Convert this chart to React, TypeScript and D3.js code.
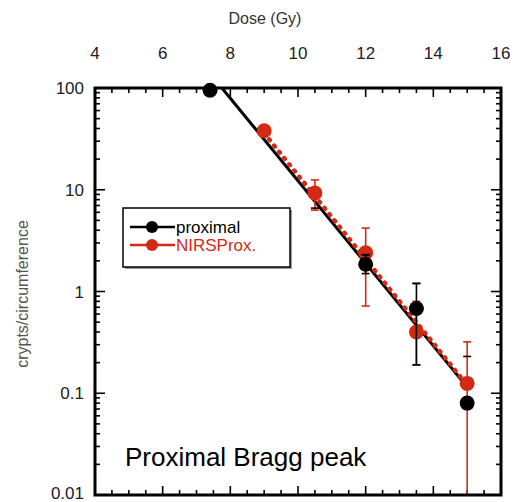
import React from "react";
import * as d3 from "d3";

const xTickLabels = [4, 6, 8, 10, 12, 14, 16];
const yTickLabels = ["0.01", "0.1", "1", "10", "100"];
const yTickValues = [0.01, 0.1, 1, 10, 100];

// proximal (black)
const proxDose = [7.4, 9, 10.5, 12, 13.5, 15];
const proxVal = [95, 38, 9.3, 1.85, 0.68, 0.08];
const proxLo = [95, 38, 6.6, 1.5, 0.19, 0.01];
const proxHi = [95, 38, 11.5, 2.3, 1.2, 0.23];
const proxFitDose = [7.75, 15];
const proxFitVal = [100, 0.115];

// NIRS proximal (red)
const nirsDose = [9, 10.5, 12, 13.5, 15];
const nirsVal = [38, 9.3, 2.4, 0.4, 0.125];
const nirsLo = [38, 6.3, 0.72, 0.19, 0.005];
const nirsHi = [38, 12.5, 4.2, 0.8, 0.32];
const nirsFitDose = [9, 15];
const nirsFitVal = [36, 0.12];

const legendLabels = ["proximal", "NIRSProx."];
const RED = "#d42a12";

export default function App() {
  const L = 95, R = 501, T = 88, B = 495;
  const x = d3.scaleLinear().domain([4, 16]).range([L, R]);
  const y = d3.scaleLog().domain([0.01, 100]).range([B, T]).clamp(true);
  const font = "Liberation Sans, Arial, sans-serif";

  const minorX = d3.range(4, 16.01, 0.5);
  const minorY: number[] = [];
  for (let e = -2; e < 2; e++) for (let m = 2; m <= 9; m++) minorY.push(m * Math.pow(10, e));

  const line = d3.line<[number, number]>().x(d => x(d[0])).y(d => y(d[1]));
  const proxFit = line(proxFitDose.map((d, i) => [d, proxFitVal[i]]));
  const nirsFit = line(nirsFitDose.map((d, i) => [d, nirsFitVal[i]]));

  const errBars = (dose: number[], lo: number[], hi: number[], color: string) =>
    dose.map((d, i) => (
      <g key={i} stroke={color} strokeWidth={1.6}>
        <line x1={x(d)} x2={x(d)} y1={y(lo[i])} y2={y(hi[i])} />
        {lo[i] > 0.01 && <line x1={x(d) - 4} x2={x(d) + 4} y1={y(lo[i])} y2={y(lo[i])} />}
        <line x1={x(d) - 4} x2={x(d) + 4} y1={y(hi[i])} y2={y(hi[i])} />
      </g>
    ));

  return (
    <svg width={516} height={502} style={{ position: "absolute", left: 0, top: 0, background: "#fff" }} fontFamily={font}>
      <defs>
        <clipPath id="plot"><rect x={L} y={T - 10} width={R - L} height={B - T + 10} /></clipPath>
      </defs>
      {/* axis titles */}
      <text x={265} y={24} fontSize={16} textAnchor="middle" fill="#333">Dose (Gy)</text>
      <text transform={`translate(28,${294}) rotate(-90)`} fontSize={16} textAnchor="middle" fill="#555">crypts/circumference</text>
      {xTickLabels.map(v => (
        <text key={v} x={x(v)} y={59} fontSize={17} textAnchor="middle" fill="#222">{v}</text>
      ))}
      {yTickValues.map((v, i) => (
        <text key={v} x={84} y={Math.min(y(v) + 6, 499)} fontSize={17} textAnchor="end" fill="#222">{yTickLabels[i]}</text>
      ))}
      {/* ticks */}
      <g stroke="#000" strokeWidth={1.6}>
        {minorX.map(v => {
          const len = Math.abs(v % 2) < 1e-6 ? 9 : 5;
          return (
            <g key={v}>
              <line x1={x(v)} x2={x(v)} y1={T} y2={T + len} />
              <line x1={x(v)} x2={x(v)} y1={B} y2={B - len} />
            </g>
          );
        })}
        {minorY.map(v => (
          <g key={v}>
            <line x1={L} x2={L + 5} y1={y(v)} y2={y(v)} />
            <line x1={R} x2={R - 5} y1={y(v)} y2={y(v)} />
          </g>
        ))}
        {yTickValues.map(v => (
          <g key={v}>
            <line x1={L} x2={L + 10} y1={y(v)} y2={y(v)} />
            <line x1={R} x2={R - 10} y1={y(v)} y2={y(v)} />
          </g>
        ))}
      </g>
      {/* text annotation */}
      <text x={125} y={466} fontSize={26} fill="#000">Proximal Bragg peak</text>
      <g clipPath="url(#plot)">
        <path d={proxFit || ""} stroke="#000" strokeWidth={3} fill="none" />
        <path d={nirsFit || ""} stroke={RED} strokeWidth={4.5} fill="none" strokeDasharray="1 7" strokeLinecap="round" />
        {errBars(nirsDose, nirsLo, nirsHi, RED)}
        {nirsDose.map((d, i) => (
          <circle key={i} cx={x(d)} cy={y(nirsVal[i])} r={7.5} fill={RED} />
        ))}
        {errBars(proxDose, proxLo, proxHi, "#000").filter((_, i) => i >= 3 && i < 5)}
        {[2, 3, 4, 5].map(i => (
          <line key={i} x1={x(proxDose[i]) - 4} x2={x(proxDose[i]) + 4} y1={y(i === 2 ? proxLo[i] : proxHi[i])} y2={y(i === 2 ? proxLo[i] : proxHi[i])} stroke="#000" strokeWidth={1.6} />
        ))}
        {proxDose.map((d, i) => (i === 1 || i === 2 ? null : (
          <circle key={i} cx={x(d)} cy={y(proxVal[i])} r={7.5} fill="#000" />
        )))}
      </g>
      {/* frame */}
      <rect x={L} y={T} width={R - L} height={B - T} fill="none" stroke="#000" strokeWidth={3} />
      {/* legend */}
      <rect x={125} y={210} width={167} height={59} fill="#999" />
      <rect x={123} y={208} width={167} height={59} fill="#fff" stroke="#000" strokeWidth={1.5} />
      {legendLabels.map((lab, i) => {
        const c = i === 0 ? "#000" : RED;
        const yy = 227 + i * 18;
        return (
          <g key={lab}>
            <line x1={130} x2={175} y1={yy} y2={yy} stroke={c} strokeWidth={2.5} />
            <circle cx={152} cy={yy} r={6} fill={c} />
            <text x={176} y={yy + 6} fontSize={17} fill={c}>{lab}</text>
          </g>
        );
      })}
    </svg>
  );
}
